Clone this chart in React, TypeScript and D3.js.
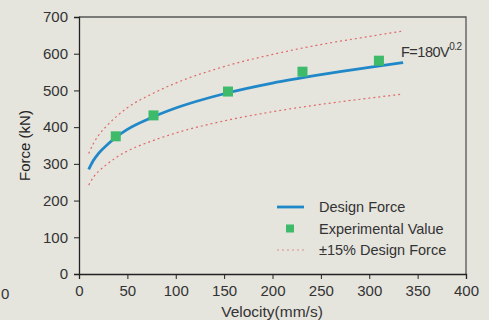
import { useEffect, useRef } from "react";
import * as d3 from "d3";

// Design force curve, F = 180 V^0.2
const velocity = [10, 15, 20, 30, 40, 50, 75, 100, 150, 200, 250, 300, 335];
const designForce = [285, 310, 328, 354, 376, 394, 426, 452, 491, 520, 543, 563, 576];
const upperForce = [328, 356, 377, 407, 432, 453, 490, 520, 565, 598, 625, 647, 662];
const lowerForce = [242, 264, 279, 301, 320, 335, 362, 384, 417, 442, 462, 479, 490];

// Experimental points
const expVelocity = [38, 77, 154, 231, 310];
const expForce = [375, 432, 497, 551, 581];

const xTicks = [0, 50, 100, 150, 200, 250, 300, 350, 400];
const yTicks = [0, 100, 200, 300, 400, 500, 600, 700];

const legendItems = ["Design Force", "Experimental Value", "±15% Design Force"];

const BLUE = "#2088c8";
const GREEN = "#3dba6a";
const RED = "#e06a6a";
const FONT = "'Liberation Sans', Arial, sans-serif";

const App = () => {
  const svgRef = useRef<SVGSVGElement | null>(null);

  useEffect(() => {
    const width = 489;
    const height = 320;
    const margin = { top: 17, right: 23, bottom: 46, left: 79 };
    const svg = d3.select(svgRef.current);
    svg.selectAll("*").remove();

    svg.append("rect").attr("width", width).attr("height", height).attr("fill", "#e5e4dd");

    const x = d3.scaleLinear().domain([0, 400]).range([margin.left, width - margin.right]);
    const y = d3.scaleLinear().domain([0, 700]).range([height - margin.bottom, margin.top]);

    // frame: top and right in grey
    svg
      .append("path")
      .attr("d", `M${x(0)},${y(700)}H${x(400)}V${y(0)}`)
      .attr("fill", "none")
      .attr("stroke", "#555")
      .attr("stroke-width", 1.3);

    // axes
    const xAxis = svg
      .append("g")
      .attr("transform", `translate(0,${y(0)})`)
      .call(d3.axisBottom(x).tickValues(xTicks).tickSizeOuter(0).tickSize(5).tickPadding(6));
    const yAxis = svg
      .append("g")
      .attr("transform", `translate(${x(0)},0)`)
      .call(d3.axisLeft(y).tickValues(yTicks).tickSizeOuter(0).tickSize(5).tickPadding(6));

    [xAxis, yAxis].forEach((g) => {
      g.select(".domain").attr("stroke", "#222").attr("stroke-width", 1.3);
      g.selectAll(".tick line").attr("stroke", "#222");
      g.selectAll("text")
        .attr("fill", "#333")
        .style("font-size", "15px")
        .style("font-family", FONT);
    });

    // stray tick label from neighbouring panel
    svg
      .append("text")
      .attr("x", 1)
      .attr("y", y(0) + 25)
      .attr("text-anchor", "start")
      .attr("fill", "#333")
      .style("font-size", "15px")
      .style("font-family", FONT)
      .text("0");

    // axis titles
    svg
      .append("text")
      .attr("x", 272)
      .attr("y", 317)
      .attr("text-anchor", "middle")
      .attr("fill", "#333")
      .style("font-size", "15.5px")
      .style("font-family", FONT)
      .text("Velocity(mm/s)");

    svg
      .append("text")
      .attr("transform", `translate(30,${(y(0) + y(700)) / 2}) rotate(-90)`)
      .attr("text-anchor", "middle")
      .attr("fill", "#222")
      .style("font-size", "15px")
      .style("font-family", FONT)
      .text("Force (kN)");

    const line = d3
      .line<[number, number]>()
      .x((d) => x(d[0]))
      .y((d) => y(d[1]))
      .curve(d3.curveMonotoneX);

    const toPts = (vals: number[]) => velocity.map((v, i) => [v, vals[i]] as [number, number]);

    [upperForce, lowerForce].forEach((vals) => {
      svg
        .append("path")
        .attr("d", line(toPts(vals)))
        .attr("fill", "none")
        .attr("stroke", RED)
        .attr("stroke-width", 1.2)
        .attr("stroke-dasharray", "2,3");
    });

    svg
      .append("path")
      .attr("d", line(toPts(designForce)))
      .attr("fill", "none")
      .attr("stroke", BLUE)
      .attr("stroke-width", 2.8);

    svg
      .selectAll(".exp")
      .data(expVelocity)
      .enter()
      .append("rect")
      .attr("class", "exp")
      .attr("x", (d) => x(d) - 5)
      .attr("y", (d, i) => y(expForce[i]) - 5)
      .attr("width", 10)
      .attr("height", 10)
      .attr("fill", GREEN);

    // formula label
    const ann = svg
      .append("text")
      .attr("x", 401)
      .attr("y", 57)
      .attr("fill", "#333")
      .style("font-size", "14.5px")
      .style("font-family", FONT)
      .style("letter-spacing", "-0.5px");
    ann.append("tspan").text("F=180V");
    ann.append("tspan").attr("dy", -7).style("font-size", "10px").text("0.2");

    // legend
    const lg = svg.append("g").attr("transform", "translate(277,207)");
    legendItems.forEach((label, i) => {
      const row = lg.append("g").attr("transform", `translate(0,${i * 21.5})`);
      if (i === 0) {
        row.append("line").attr("x1", 0).attr("x2", 27).attr("stroke", BLUE).attr("stroke-width", 2.8);
      } else if (i === 1) {
        row.append("rect").attr("x", 9).attr("y", -4).attr("width", 8).attr("height", 8).attr("fill", GREEN);
      } else {
        row
          .append("line")
          .attr("x1", 0)
          .attr("x2", 27)
          .attr("stroke", RED)
          .attr("stroke-width", 1.2)
          .attr("stroke-dasharray", "2,3")
          .attr("opacity", 0.7);
      }
      row
        .append("text")
        .attr("x", 42)
        .attr("y", 5)
        .attr("fill", "#333")
        .style("font-size", "14.5px")
        .style("font-family", FONT)
        .text(label);
    });
  }, []);

  return (
    <svg
      ref={svgRef}
      width={489}
      height={320}
      style={{ position: "absolute", left: 0, top: 0, display: "block" }}
    />
  );
};

export default App;
